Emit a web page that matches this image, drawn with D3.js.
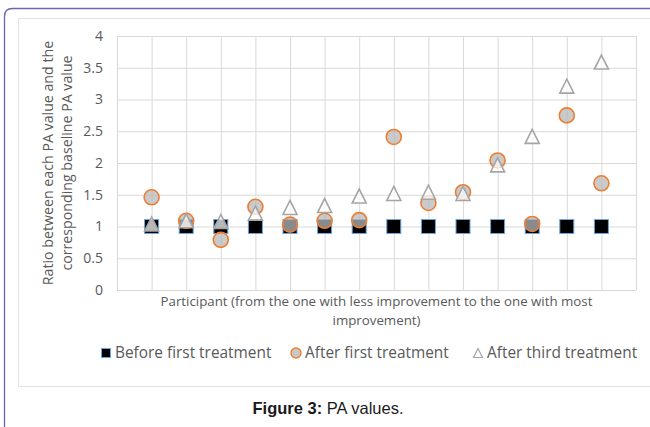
<!DOCTYPE html>
<html>
<head>
<meta charset="utf-8">
<script src="https://cdn.jsdelivr.net/npm/d3@7"></script>
<style>
  html, body { margin: 0; padding: 0; background: #ffffff; }
  svg { display: block; }
</style>
</head>
<body>
<svg id="chart" width="650" height="427"></svg>
<script>
// ---- data ----
const participants = [1, 2, 3, 4, 5, 6, 7, 8, 9, 10, 11, 12, 13, 14];
const beforeFirst = [1, 1, 1, 1, 1, 1, 1, 1, 1, 1, 1, 1, 1, 1];
const afterFirst  = [1.46, 1.09, 0.79, 1.31, 1.03, 1.09, 1.10, 2.41, 1.37, 1.54, 2.04, 1.04, 2.75, 1.68];
const afterThird  = [1.04, 1.09, 1.08, 1.21, 1.30, 1.33, 1.48, 1.52, 1.54, 1.52, 1.97, 2.42, 3.21, 3.59];
const yTicks = [0, 0.5, 1, 1.5, 2, 2.5, 3, 3.5, 4];
const seriesNames = ["Before first treatment", "After first treatment", "After third treatment"];
const yTitleLines = ["Ratio between each PA value and the", "corresponding baseline PA value"];
const xTitleLines = ["Participant (from the one with less improvement to the one with most", "improvement)"];
const captionBold = "Figure 3:";
const captionText = " PA values.";

// ---- layout ----
const svg = d3.select("#chart");
const font = "'Open Sans', 'DejaVu Sans', sans-serif";
const textGrey = "#595959";
const gridColor = "#d9d9d9";

const plot = { left: 117, right: 636, top: 36, bottom: 290 };
const x = d3.scaleLinear().domain([0, 15]).range([plot.left, plot.right]);
const y = d3.scaleLinear().domain([0, 4]).range([plot.bottom, plot.top]);

// outer page frame (purple, rounded top-left corner)
svg.append("path")
  .attr("d", "M4.5,440 L4.5,16.5 Q4.5,8.5 12.5,8.5 L660,8.5")
  .attr("fill", "none")
  .attr("stroke", "#6e64b4")
  .attr("stroke-width", 1.3);

// chart area box
svg.append("rect")
  .attr("x", 18.5).attr("y", 18.5)
  .attr("width", 660).attr("height", 368)
  .attr("fill", "#ffffff")
  .attr("stroke", "#e3e3e3")
  .attr("stroke-width", 1);

// gridlines via axes
const xGrid = d3.axisBottom(x)
  .tickValues(d3.range(0, 16))
  .tickSize(-(plot.bottom - plot.top))
  .tickFormat("");
svg.append("g")
  .attr("transform", `translate(0,${plot.bottom})`)
  .call(xGrid)
  .call(g => g.select(".domain").remove())
  .call(g => g.selectAll("line").attr("stroke", gridColor).attr("stroke-width", 1));

const yAxis = d3.axisLeft(y)
  .tickValues(yTicks)
  .tickSize(-(plot.right - plot.left))
  .tickPadding(14)
  .tickFormat(d3.format("~g"));
svg.append("g")
  .attr("transform", `translate(${plot.left},0)`)
  .call(yAxis)
  .call(g => g.select(".domain").remove())
  .call(g => g.selectAll("line").attr("stroke", gridColor).attr("stroke-width", 1))
  .call(g => g.selectAll("text")
    .attr("fill", textGrey)
    .style("font-family", font)
    .style("font-size", "14px"));

// axis titles
const yTitle = svg.append("text")
  .attr("transform", "translate(0,163) rotate(-90)")
  .attr("text-anchor", "middle")
  .attr("fill", textGrey)
  .style("font-family", font)
  .style("font-size", "14.2px");
yTitleLines.forEach((t, i) => {
  yTitle.append("tspan").attr("x", 0).attr("y", 53 + i * 19).text(t);
});

const xTitle = svg.append("text")
  .attr("text-anchor", "middle")
  .attr("fill", textGrey)
  .style("font-family", font)
  .style("font-size", "13.3px");
xTitleLines.forEach((t, i) => {
  xTitle.append("tspan")
    .attr("x", (plot.left + plot.right) / 2)
    .attr("y", 306 + i * 19)
    .text(t);
});

// ---- markers ----
const sq = 14, r = 7.5, tri = 14;
const triPath = s => `M0,${-s / 2} L${s / 2},${s / 2} L${-s / 2},${s / 2} Z`;

svg.append("g").selectAll("rect")
  .data(participants.map((p, i) => [p, beforeFirst[i]]))
  .join("rect")
  .attr("x", d => x(d[0]) - sq / 2)
  .attr("y", d => y(d[1]) - sq / 2)
  .attr("width", sq).attr("height", sq)
  .attr("fill", "#000000")
  .attr("stroke", "#6aa5dc")
  .attr("stroke-width", 1);

svg.append("g").selectAll("circle")
  .data(participants.map((p, i) => [p, afterFirst[i]]))
  .join("circle")
  .attr("cx", d => x(d[0]))
  .attr("cy", d => y(d[1]))
  .attr("r", r)
  .attr("fill", "#b8b8b8")
  .attr("fill-opacity", 0.75)
  .attr("stroke", "#ed7d31")
  .attr("stroke-width", 1.6);

svg.append("g").selectAll("path")
  .data(participants.map((p, i) => [p, afterThird[i]]))
  .join("path")
  .attr("transform", d => `translate(${x(d[0])},${y(d[1])})`)
  .attr("d", triPath(tri))
  .attr("fill", "#ffffff")
  .attr("fill-opacity", 0.72)
  .attr("stroke", "#a5a5a5")
  .attr("stroke-width", 1.6);

// ---- legend ----
const legY = 353;
const legend = svg.append("g")
  .style("font-family", font)
  .style("font-size", "15.4px");
const legItems = [
  { mx: 106, tx: 115 },
  { mx: 296, tx: 305 },
  { mx: 478, tx: 487 }
];
legend.append("rect")
  .attr("x", legItems[0].mx - 4.5).attr("y", legY - 4.5)
  .attr("width", 9).attr("height", 9)
  .attr("fill", "#000").attr("stroke", "#6aa5dc").attr("stroke-width", 1);
legend.append("circle")
  .attr("cx", legItems[1].mx).attr("cy", legY).attr("r", 5)
  .attr("fill", "#c8c8c8").attr("stroke", "#ed7d31").attr("stroke-width", 1.4);
legend.append("path")
  .attr("transform", `translate(${legItems[2].mx},${legY})`)
  .attr("d", triPath(9))
  .attr("fill", "#fff").attr("stroke", "#a5a5a5").attr("stroke-width", 1.2);
seriesNames.forEach((name, i) => {
  legend.append("text")
    .attr("x", legItems[i].tx)
    .attr("y", legY)
    .attr("dy", "0.35em")
    .attr("fill", textGrey)
    .text(name);
});

// ---- caption ----
const cap = svg.append("text")
  .attr("x", 328).attr("y", 414)
  .attr("text-anchor", "middle")
  .attr("fill", "#1a1a1a")
  .style("font-family", "'Liberation Sans', Arial, sans-serif")
  .style("font-size", "16.5px");
cap.append("tspan").attr("font-weight", "bold").text(captionBold);
cap.append("tspan").text(captionText);
</script>
</body>
</html>
